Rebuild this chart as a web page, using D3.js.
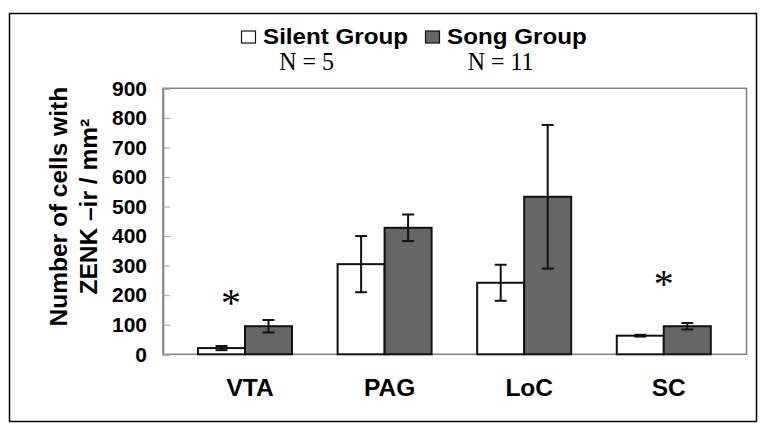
<!DOCTYPE html>
<html>
<head>
<meta charset="utf-8">
<script src="https://cdn.jsdelivr.net/npm/d3@7"></script>
<style>
  html, body { margin: 0; padding: 0; background: #fff; }
  svg { display: block; }
</style>
</head>
<body>
<script>
// ---- data ----
const categories = ["VTA", "PAG", "LoC", "SC"];
const groups = ["Silent Group", "Song Group"];
const groupN = ["N = 5", "N = 11"];
const silentMeans = [21, 305, 242, 63];
const silentErrors = [7, 95, 61, 3];
const songMeans = [95, 428, 533, 95];
const songErrors = [21, 45, 243, 11];
const yTicks = [0, 100, 200, 300, 400, 500, 600, 700, 800, 900];
const significance = [
  { category: "VTA", value: 194, dx: -14 },
  { category: "SC", value: 258, dx: 0 }
];

const W = 761, H = 424;
const plot = { left: 163, right: 746.5, top: 88.3, bottom: 354.3 };
const colors = { "Silent Group": "#ffffff", "Song Group": "#666666" };

const svg = d3.select("body").append("svg").attr("width", W).attr("height", H);

// outer border
svg.append("rect").attr("x", 9.5).attr("y", 13.5).attr("width", 747).attr("height", 408)
  .attr("fill", "#fff").attr("stroke", "#000").attr("stroke-width", 1.5);

// scales
const y = d3.scaleLinear().domain([0, 900]).range([plot.bottom, plot.top]);
const x = d3.scaleBand().domain(categories).range([175.2, 733.6]).padding(0);
const xSub = d3.scaleBand().domain(groups).range([0, x.bandwidth()])
  .paddingInner(0).paddingOuter(0.485);

// plot frame
svg.append("rect").attr("x", plot.left).attr("y", plot.top)
  .attr("width", plot.right - plot.left).attr("height", plot.bottom - plot.top)
  .attr("fill", "none").attr("stroke", "#808080").attr("stroke-width", 1.5);

// y axis
const yAxis = d3.axisRight(y).tickValues(yTicks).tickSize(7).tickFormat("");
const yg = svg.append("g").attr("transform", `translate(${plot.left},0)`).call(yAxis);
yg.select(".domain").attr("stroke", "#808080").attr("stroke-width", 1.5);
yg.selectAll(".tick line").attr("stroke", "#a0a0a0").attr("stroke-width", 1);

svg.append("g").selectAll("text").data(yTicks).join("text")
  .attr("transform", d => `translate(147,${y(d) + 7.3}) scale(1.05,1)`)
  .attr("text-anchor", "end")
  .attr("font-family", "Liberation Sans, Arial, sans-serif")
  .attr("font-weight", "bold").attr("font-size", 20)
  .attr("fill", "#000")
  .text(d => d);

// series data
const series = [
  { group: groups[0], means: silentMeans, errors: silentErrors },
  { group: groups[1], means: songMeans, errors: songErrors }
];
const barData = [];
series.forEach(s => categories.forEach((c, i) => {
  barData.push({ category: c, group: s.group, value: s.means[i], err: s.errors[i] });
}));

// bars
svg.append("g").selectAll("rect").data(barData).join("rect")
  .attr("x", d => x(d.category) + xSub(d.group))
  .attr("y", d => y(d.value))
  .attr("width", xSub.bandwidth())
  .attr("height", d => y(0) - y(d.value))
  .attr("fill", d => colors[d.group])
  .attr("stroke", "#111").attr("stroke-width", 2);

// error bars
const eg = svg.append("g").attr("stroke", "#111").attr("stroke-width", 2);
barData.forEach(d => {
  const cx = x(d.category) + xSub(d.group) + xSub.bandwidth() / 2;
  const y1 = y(d.value + d.err), y2 = y(d.value - d.err);
  eg.append("line").attr("x1", cx).attr("x2", cx).attr("y1", y1).attr("y2", y2);
  eg.append("line").attr("x1", cx - 6).attr("x2", cx + 6).attr("y1", y1).attr("y2", y1);
  eg.append("line").attr("x1", cx - 6).attr("x2", cx + 6).attr("y1", y2).attr("y2", y2);
});

// x labels
svg.append("g").selectAll("text").data(categories).join("text")
  .attr("x", d => x(d) + x.bandwidth() / 2 + 5)
  .attr("y", 396)
  .attr("text-anchor", "middle")
  .attr("font-family", "Liberation Sans, Arial, sans-serif")
  .attr("font-weight", "bold").attr("font-size", 24.5)
  .attr("fill", "#000")
  .text(d => d);

// significance asterisks
svg.append("g").selectAll("text").data(significance).join("text")
  .attr("x", d => x(d.category) + x.bandwidth() / 2 + d.dx)
  .attr("y", d => y(d.value) + 19)
  .attr("text-anchor", "middle")
  .attr("font-family", "Liberation Serif, Times New Roman, serif")
  .attr("font-size", 40)
  .attr("fill", "#000")
  .text("*");

// y axis title
const yt = svg.append("text")
  .attr("transform", "translate(67,206.7) rotate(-90)")
  .attr("text-anchor", "middle")
  .attr("font-family", "Liberation Sans, Arial, sans-serif")
  .attr("font-weight", "bold").attr("font-size", 24.5)
  .attr("fill", "#000");
yt.append("tspan").attr("x", 0).attr("y", 0).text("Number of cells with");
yt.append("tspan").attr("x", 0).attr("y", 30).text("ZENK \u2013ir / mm\u00B2");

// legend
const legendX = [241, 425];
const legend = svg.append("g");
groups.forEach((g, i) => {
  legend.append("rect").attr("x", legendX[i] + 0.5).attr("y", 31)
    .attr("width", 14).attr("height", 12)
    .attr("fill", colors[g]).attr("stroke", "#111").attr("stroke-width", 1.2);
  legend.append("text")
    .attr("transform", `translate(${legendX[i] + 22},43.5) scale(1.1,1)`)
    .attr("font-family", "Liberation Sans, Arial, sans-serif")
    .attr("font-weight", "bold").attr("font-size", 22)
    .attr("fill", "#000")
    .text(g);
});
const nX = [279.3, 467.7];
groupN.forEach((t, i) => {
  legend.append("text")
    .attr("transform", `translate(${nX[i]},70) scale(0.92,1)`)
    .attr("font-family", "Liberation Serif, Times New Roman, serif")
    .attr("font-size", 26)
    .attr("fill", "#000")
    .text(t);
});
</script>
</body>
</html>
